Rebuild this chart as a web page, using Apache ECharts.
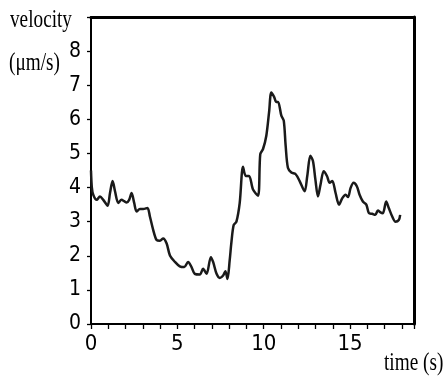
<!DOCTYPE html>
<html><head><meta charset="utf-8">
<script src="https://cdn.jsdelivr.net/npm/echarts@6/dist/echarts.min.js"></script>
<style>html,body{margin:0;padding:0;background:#fff}#c{width:448px;height:376px}</style>
</head><body><div id="c"></div>
<script>
var times = [0,0.05,0.13,0.33,0.52,0.71,0.96,1.1,1.25,1.39,1.58,1.77,1.92,2.06,2.21,2.35,2.5,2.64,2.83,3.02,3.27,3.41,3.6,3.8,3.99,4.18,4.38,4.57,4.86,5.14,5.4,5.62,5.82,6.01,6.3,6.49,6.69,6.94,7.07,7.27,7.46,7.65,7.78,7.9,8.03,8.13,8.26,8.42,8.61,8.8,8.96,9.15,9.38,9.67,9.8,9.96,10.15,10.31,10.44,10.6,10.73,10.83,11.02,11.16,11.27,11.4,11.6,11.85,12.08,12.37,12.52,12.7,12.85,12.99,13.14,13.29,13.47,13.66,13.82,13.97,14.16,14.36,14.55,14.74,14.88,15.03,15.2,15.39,15.55,15.74,15.94,16.09,16.28,16.46,16.61,16.76,16.9,17.09,17.24,17.44,17.63,17.82,17.9];
var velocity = [4.5,4.0,3.79,3.64,3.74,3.64,3.47,3.84,4.19,3.89,3.55,3.64,3.6,3.56,3.64,3.84,3.55,3.3,3.37,3.37,3.4,3.15,2.76,2.46,2.44,2.51,2.36,2.01,1.82,1.69,1.67,1.82,1.67,1.47,1.45,1.62,1.47,1.96,1.82,1.47,1.35,1.42,1.55,1.32,1.87,2.4,2.9,3.0,3.55,4.61,4.34,4.34,3.94,3.76,4.98,5.13,5.52,6.21,6.79,6.66,6.51,6.51,6.11,5.96,5.22,4.58,4.44,4.39,4.19,3.89,4.34,4.93,4.78,4.24,3.74,4.09,4.48,4.34,4.14,4.19,3.84,3.5,3.69,3.79,3.72,3.99,4.14,4.04,3.79,3.59,3.5,3.25,3.23,3.2,3.33,3.27,3.25,3.59,3.4,3.15,3.0,3.05,3.2];
var yTicks = [0,1,2,3,4,5,6,7,8];
var xTickLabels = [0,5,10,15];
var yTitle = ['velocity','(\u03bcm/s)'];
var xTitle = 'time (s)';

var pts = times.map(function(t,i){return [t, velocity[i]];});
var numFont = "'DejaVu Sans Condensed','DejaVu Sans',sans-serif";
var serif = "'Liberation Serif','DejaVu Serif',serif";
var chart = echarts.init(document.getElementById('c'));
chart.setOption({
  animation:false,
  backgroundColor:'#fff',
  grid:{left:91,right:34,top:17,bottom:52},
  xAxis:[{
    type:'value',min:0,max:18.7,interval:1,
    axisLine:{lineStyle:{color:'#000',width:2}},
    axisTick:{show:true,length:5,lineStyle:{color:'#000',width:1.3}},
    splitLine:{show:false},
    axisLabel:{color:'#000',fontFamily:numFont,fontStyle:'condensed',fontSize:22,margin:9,
      formatter:function(v){return xTickLabels.indexOf(v)>=0?String(v):'';}}
  },{
    type:'value',position:'top',min:0,max:18.7,
    axisLine:{show:true,onZero:false,lineStyle:{color:'#000',width:3}},
    axisTick:{show:false},axisLabel:{show:false},splitLine:{show:false}
  }],
  yAxis:[{
    type:'value',min:0,max:9,interval:1,
    axisLine:{show:true,lineStyle:{color:'#000',width:2}},
    axisTick:{show:true,length:4,lineStyle:{color:'#000',width:1.3}},
    splitLine:{show:false},
    axisLabel:{color:'#000',fontFamily:numFont,fontStyle:'condensed',fontSize:21,margin:10,
      formatter:function(v){return yTicks.indexOf(v)>=0?String(v):'';}}
  },{
    type:'value',position:'right',min:0,max:9,
    axisLine:{show:true,onZero:false,lineStyle:{color:'#000',width:3}},
    axisTick:{show:false},axisLabel:{show:false},splitLine:{show:false}
  }],
  graphic:[
    {type:'text',x:10,y:7,scaleX:0.74,style:{text:yTitle[0],font:'26px '+serif,fill:'#000',verticalAlign:'top',textVerticalAlign:'top'}},
    {type:'text',x:9,y:50,scaleX:0.74,style:{text:yTitle[1],font:'26px '+serif,fill:'#000',verticalAlign:'top',textVerticalAlign:'top'}},
    {type:'text',x:384,y:350,scaleX:0.74,style:{text:xTitle,font:'26px '+serif,fill:'#000',verticalAlign:'top',textVerticalAlign:'top'}}
  ],
  series:[{
    type:'line',data:pts,showSymbol:false,smooth:0.3,
    lineStyle:{color:'#1a1a1a',width:2.5}
  }]
});
</script></body></html>
